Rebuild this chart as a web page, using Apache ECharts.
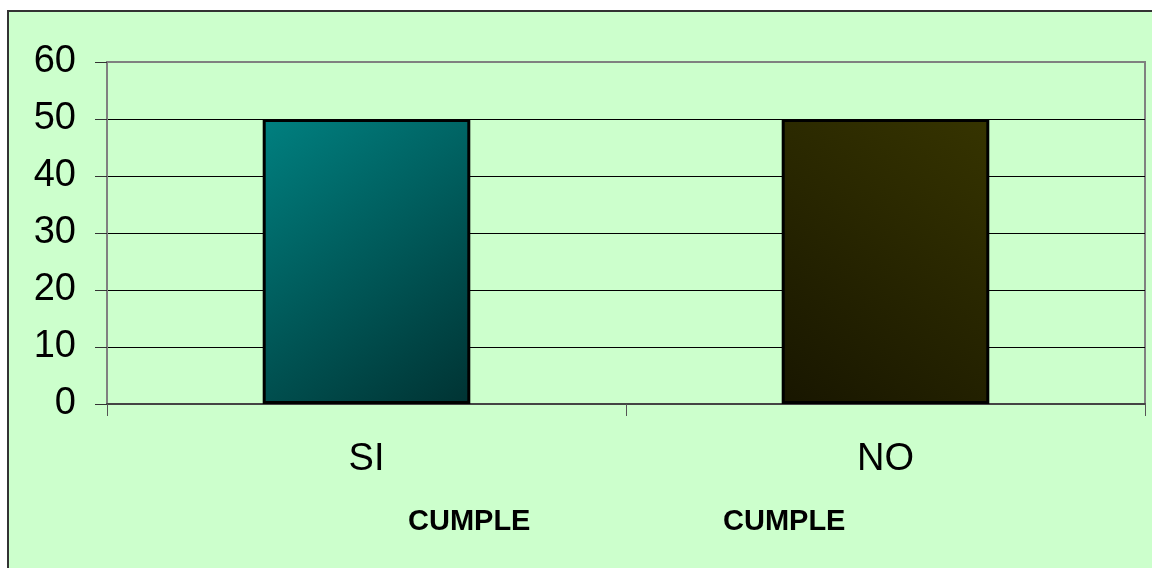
<!DOCTYPE html>
<html>
<head>
<meta charset="utf-8">
<style>
  html, body { margin: 0; padding: 0; background: #ffffff; }
  #chart { width: 1152px; height: 568px; }
</style>
<script src="https://cdn.jsdelivr.net/npm/echarts@6/dist/echarts.min.js"></script>
</head>
<body>
<div id="chart"></div>
<script>
// Categories and values
const categories = ['SI', 'NO'];
const values = [50, 50];
const yTicks = { min: 0, max: 60, interval: 10 };
const footnotes = ['CUMPLE', 'CUMPLE'];

// Diagonal gradient fills for each bar
const barFills = [
  new echarts.graphic.LinearGradient(0, 0, 1, 1, [
    { offset: 0, color: '#008080' },
    { offset: 1, color: '#003333' }
  ]),
  new echarts.graphic.LinearGradient(1, 0, 0, 1, [
    { offset: 0, color: '#363400' },
    { offset: 1, color: '#181600' }
  ])
];

const FONT = '"Liberation Sans", Arial, sans-serif';

const chart = echarts.init(document.getElementById('chart'), null, { renderer: 'canvas' });

chart.setOption({
  backgroundColor: '#ffffff',
  animation: false,
  textStyle: { fontFamily: FONT },
  graphic: [
    {
      type: 'rect',
      z: -100,
      silent: true,
      shape: { x: 8, y: 11, width: 1160, height: 570 },
      style: { fill: '#CCFFCC', stroke: '#333333', lineWidth: 2 }
    },
    {
      type: 'text',
      left: 408, top: 507,
      style: { text: footnotes[0], font: 'bold 29px ' + FONT, fill: '#000000' }
    },
    {
      type: 'text',
      left: 723, top: 507,
      style: { text: footnotes[1], font: 'bold 29px ' + FONT, fill: '#000000' }
    }
  ],
  grid: {
    left: 107, top: 62, right: 7, bottom: 164,
    show: true,
    backgroundColor: 'transparent',
    borderColor: '#808080',
    borderWidth: 2
  },
  xAxis: {
    type: 'category',
    data: categories,
    boundaryGap: true,
    axisLine: { show: true, lineStyle: { color: '#444444', width: 2 } },
    axisTick: { show: true, length: 12, lineStyle: { color: '#555555', width: 1 } },
    axisLabel: { color: '#000000', fontSize: 38, fontFamily: FONT, margin: 37, lineHeight: 38 },
    splitLine: { show: false }
  },
  yAxis: {
    type: 'value',
    min: yTicks.min, max: yTicks.max, interval: yTicks.interval,
    axisLine: { show: true, lineStyle: { color: '#808080', width: 2 } },
    axisTick: { show: true, length: 12, lineStyle: { color: '#333333', width: 1 } },
    axisLabel: { color: '#000000', fontSize: 38, fontFamily: FONT, margin: 31 },
    splitLine: {
      show: true,
      showMinLine: false,
      showMaxLine: false,
      lineStyle: { color: '#000000', width: 1 }
    }
  },
  series: [{
    type: 'bar',
    barWidth: '40%',
    data: values.map((v, i) => ({
      value: v,
      itemStyle: { color: barFills[i], borderColor: '#000000', borderWidth: 3 }
    }))
  }]
});
</script>
</body>
</html>
